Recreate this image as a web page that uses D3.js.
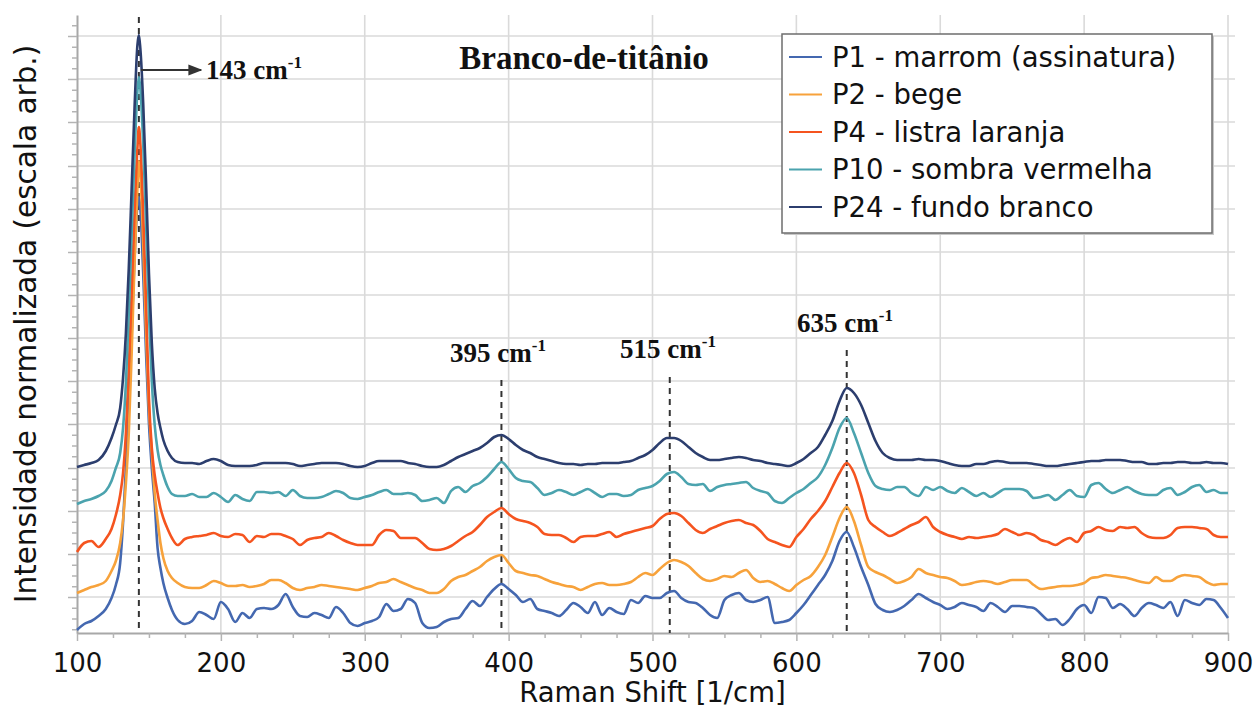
<!DOCTYPE html>
<html>
<head>
<meta charset="utf-8">
<script src="https://cdnjs.cloudflare.com/ajax/libs/d3/7.8.5/d3.min.js"></script>
<style>
  body { margin: 0; background: #fff; }
  svg { display: block; }
</style>
</head>
<body>
<div id="viz"></div>
<script>
// Raman shift (1/cm) shared by every spectrum
const shift = [100,105,110,115,120,124,127,130,132,134,136,138,140,142,143,144,146,148,150,152,154,156,158,160,163,166,170,
  175,180,185,190,195,200,205,210,215,220,225,230,235,240,245,250,255,260,265,270,
  275,280,285,290,295,300,305,310,315,320,325,330,335,340,345,350,355,360,365,370,
  375,380,385,390,395,400,405,410,415,420,425,430,435,440,445,450,455,460,465,470,
  475,480,485,490,495,500,505,510,515,520,525,530,535,540,545,550,555,560,565,570,
  575,580,585,590,595,600,605,610,615,620,625,630,635,640,645,650,655,660,665,670,
  675,680,685,690,695,700,705,710,715,720,725,730,735,740,745,750,755,760,765,770,
  775,780,785,790,795,800,805,810,815,820,825,830,835,840,845,850,855,860,865,870,
  875,880,885,890,895,900];

// normalized intensity, stacked with offsets (arb. units)
const p1 = [3,9,12,17,24,35,48,70,110,165,230,300,375,428,436,425,360,280,210,165,130,85,65,50,35,23,13,
  9,12,21,18,14,31,24,11,20,15,24,25,24,28,39,26,17,16,20,18,
  15,26,20,10,7,10,12,16,29,22,24,34,30,10,5,6,11,14,15,24,
  32,27,36,44,49,44,38,31,34,24,22,20,17,23,30,26,20,31,18,25,
  21,19,33,30,37,35,35,40,42,35,31,30,25,18,15,33,38,40,33,31,
  33,36,10,11,13,20,28,38,48,58,72,92,101,86,66,48,29,23,21,23,
  27,33,39,35,31,28,24,26,30,28,26,22,30,26,21,27,27,26,25,19,
  13,14,8,14,24,28,20,36,35,25,29,24,17,25,30,28,25,31,17,33,
  30,28,34,33,25,15];
const p2 = [40,43,46,48,52,62,72,90,113,150,200,280,370,445,472,460,390,300,225,180,140,113,90,75,62,55,50,
  46,45,45,48,52,50,47,47,48,46,47,49,53,53,50,45,43,45,46,48,
  47,46,45,44,43,45,47,50,51,54,51,48,45,43,40,40,44,52,56,58,
  62,66,72,76,78,70,62,60,58,57,54,51,49,47,46,43,46,49,50,48,
  48,49,51,56,60,58,64,70,73,71,67,60,54,52,54,57,56,60,63,55,
  51,52,49,45,42,48,53,57,66,78,96,115,126,112,88,66,61,58,54,50,
  52,56,64,60,58,56,55,52,48,49,51,52,51,49,51,53,53,53,48,44,
  45,46,47,47,48,50,55,56,58,57,56,55,53,51,50,56,52,52,56,58,
  57,56,51,48,49,49];
const p4 = [81,90,92,86,94,104,118,138,160,200,265,340,420,485,506,490,420,330,235,185,158,140,125,115,104,95,88,
  94,96,97,98,100,97,96,99,98,91,97,96,99,99,97,94,88,93,95,96,
  100,97,93,90,88,88,88,98,103,102,95,95,95,90,84,83,84,87,92,97,
  101,108,116,121,125,119,114,112,110,106,99,98,98,95,91,96,97,97,99,101,
  96,99,101,103,105,107,114,119,120,117,110,103,100,104,107,110,112,113,110,108,
  102,94,91,88,86,96,104,114,122,132,146,160,170,160,138,113,106,101,97,100,
  104,108,111,116,106,101,98,96,94,96,95,96,97,99,104,101,98,100,98,93,
  91,88,92,95,91,100,102,106,103,102,106,105,106,100,96,95,95,98,105,106,
  106,105,104,98,96,96];
const p10 = [129,132,134,137,142,152,165,180,205,250,320,400,478,542,556,545,490,410,320,252,208,183,168,158,146,139,137,
  137,139,136,136,140,136,131,138,134,132,141,141,140,141,137,143,137,135,135,136,
  139,142,140,135,134,136,138,141,143,139,139,140,138,132,133,135,130,142,146,141,
  147,150,156,164,171,164,155,152,151,145,138,140,143,141,138,141,144,140,136,139,
  139,137,138,143,145,147,152,159,161,156,149,148,149,142,146,148,149,150,151,145,
  142,140,132,130,135,140,144,150,156,168,185,205,215,200,180,160,147,144,143,146,
  146,140,137,146,143,146,142,140,145,141,137,140,136,140,144,144,144,142,135,136,
  138,133,138,143,137,136,148,150,144,140,143,146,142,139,138,138,143,145,138,141,
  146,148,141,143,140,140];
const p24 = [166,168,170,173,182,195,208,225,255,300,365,445,525,588,598,585,530,450,360,290,245,220,205,193,182,175,171,
  170,170,169,172,174,172,168,167,167,167,168,170,170,170,170,169,167,168,169,170,
  170,170,169,167,166,167,170,172,172,172,172,170,169,167,166,166,168,172,176,179,
  182,185,190,196,198,194,188,183,180,176,174,172,170,169,169,168,169,169,170,170,
  170,171,172,175,178,183,190,195,195,192,186,180,176,173,173,174,175,176,175,173,
  172,170,169,168,167,170,174,180,186,198,212,232,245,240,228,210,192,180,175,173,
  173,173,174,173,173,172,170,168,167,167,169,169,171,172,171,170,170,170,169,168,
  167,167,168,169,170,171,172,172,173,173,173,172,171,171,169,169,170,170,171,171,
  170,170,171,170,170,169];

const seriesNames = ['P1 - marrom (assinatura)', 'P2 - bege', 'P4 - listra laranja', 'P10 - sombra vermelha', 'P24 - fundo branco'];
const seriesValues = [p1, p2, p4, p10, p24];
const seriesColors = ['#4468b0', '#f7a23b', '#f5541f', '#4ba3ae', '#2c3e6e'];

const xTickValues = [100, 200, 300, 400, 500, 600, 700, 800, 900];
const yGridValues = [36, 79, 122, 165, 209, 252, 295, 338, 381, 424, 467, 511, 554, 597];

const peakShift = [143, 395, 512, 635];
const peakLabels = ['143', '395', '515', '635'];

const canvasWidth = 1259;
const canvasHeight = 710;
const margin = { top: 15, right: 31, bottom: 77, left: 77 };
const plotWidth = canvasWidth - margin.left - margin.right;
const plotHeight = canvasHeight - margin.top - margin.bottom;

const xScale = d3.scaleLinear().domain([100, 900]).range([0, plotWidth]);
const yScale = d3.scaleLinear().domain([0, 618]).range([plotHeight, 0]);

const sans = 'DejaVu Sans, Verdana, sans-serif';
const serif = 'Liberation Serif, Times New Roman, serif';

const chart = d3.select('#viz')
  .append('svg')
  .attr('width', canvasWidth)
  .attr('height', canvasHeight);

const plot = chart.append('g')
  .attr('transform', `translate(${margin.left}, ${margin.top})`);

// grid
plot.append('g').selectAll('line').data(yGridValues)
  .enter().append('line')
    .attr('x1', 0).attr('x2', plotWidth + 7)
    .attr('y1', (d) => yScale(d)).attr('y2', (d) => yScale(d))
    .attr('stroke', '#dadada').attr('stroke-width', 1.6);

plot.append('g').selectAll('line').data(xTickValues.slice(1))
  .enter().append('line')
    .attr('x1', (d) => xScale(d)).attr('x2', (d) => xScale(d))
    .attr('y1', 0).attr('y2', plotHeight)
    .attr('stroke', '#dadada').attr('stroke-width', 1.6);

// axes
const minorX = d3.range(100, 901, 25).filter((d) => d % 100 !== 0);
const minorY = [];
yGridValues.forEach((g, i) => {
  const step = (yGridValues[1] - yGridValues[0]) / 4;
  [1, 2, 3].forEach((k) => minorY.push(g - k * step));
  if (i === yGridValues.length - 1) [1, 2].forEach((k) => minorY.push(g + k * step));
});

const xAxis = plot.append('g')
  .attr('transform', `translate(0, ${plotHeight})`)
  .call(d3.axisBottom(xScale).tickValues(xTickValues).tickSize(8).tickSizeOuter(0).tickPadding(13));
plot.append('g')
  .attr('transform', `translate(0, ${plotHeight})`)
  .call(d3.axisBottom(xScale).tickValues(minorX).tickSize(5).tickFormat(''))
  .select('.domain').remove();

const yAxis = plot.append('g')
  .call(d3.axisLeft(yScale).tickValues(yGridValues).tickSize(9).tickSizeOuter(0).tickFormat(''));
plot.append('g')
  .call(d3.axisLeft(yScale).tickValues(minorY.filter((d) => d > 0 && d <= 618)).tickSize(5).tickFormat(''))
  .select('.domain').remove();

plot.selectAll('.domain').attr('stroke', '#a8a8a8').attr('stroke-width', 2);
plot.selectAll('.tick line').attr('stroke', '#b4b4b4').attr('stroke-width', 1.5);
xAxis.selectAll('text')
  .attr('font-family', sans).attr('font-size', 26).attr('fill', '#111');

// dashed peak markers
const markTop = [2, 365, 362, 335];
plot.append('g').selectAll('line').data(peakShift)
  .enter().append('line')
    .attr('x1', (d) => xScale(d)).attr('x2', (d) => xScale(d))
    .attr('y1', (d, i) => markTop[i]).attr('y2', plotHeight)
    .attr('stroke', '#333').attr('stroke-width', 2)
    .attr('stroke-dasharray', '6,5');

// spectra
const line = d3.line()
  .x((d) => xScale(d[0]))
  .y((d) => yScale(d[1]))
  .curve(d3.curveMonotoneX);

plot.append('g').selectAll('path').data(seriesValues)
  .enter().append('path')
    .attr('d', (vals) => line(shift.map((s, i) => [s, vals[i]])))
    .attr('fill', 'none')
    .attr('stroke', (d, i) => seriesColors[i])
    .attr('stroke-width', 2.6)
    .attr('stroke-linejoin', 'round');

// arrow to 143 peak
chart.append('defs').append('marker')
  .attr('id', 'head').attr('viewBox', '0 0 10 10')
  .attr('refX', 9).attr('refY', 5)
  .attr('markerWidth', 7).attr('markerHeight', 7)
  .attr('orient', 'auto')
  .append('path').attr('d', 'M0,1 L10,5 L0,9 Z').attr('fill', '#333');

plot.append('line')
  .attr('x1', xScale(143) + 2).attr('x2', 201 - margin.left)
  .attr('y1', 55).attr('y2', 55)
  .attr('stroke', '#333').attr('stroke-width', 2)
  .attr('marker-end', 'url(#head)');

// peak labels
const labelPos = [[206, 79], [450, 362], [620, 358], [797, 332]];
peakLabels.forEach((lab, i) => {
  const t = chart.append('text')
    .attr('x', labelPos[i][0]).attr('y', labelPos[i][1])
    .attr('font-family', serif).attr('font-weight', 'bold')
    .attr('font-size', 27).attr('fill', '#111');
  t.append('tspan').text(`${lab} cm`);
  t.append('tspan').attr('dy', -11).attr('font-size', 17).text('-1');
});

chart.append('text')
  .attr('x', 584).attr('y', 69)
  .attr('text-anchor', 'middle')
  .attr('font-family', serif).attr('font-weight', 'bold')
  .attr('font-size', 33).attr('fill', '#111')
  .text('Branco-de-titânio');

// axis titles
chart.append('text')
  .attr('x', margin.left + plotWidth / 2).attr('y', 702)
  .attr('text-anchor', 'middle')
  .attr('font-family', sans).attr('font-size', 27.5).attr('fill', '#111')
  .text('Raman Shift [1/cm]');

chart.append('text')
  .attr('transform', 'translate(36, 324) rotate(-90)')
  .attr('text-anchor', 'middle')
  .attr('font-family', sans).attr('font-size', 29.5).attr('fill', '#111')
  .text('Intensidade normalizada (escala arb.)');

// legend
const legend = chart.append('g').attr('transform', 'translate(782, 34)');
legend.append('rect')
  .attr('x', 2).attr('y', 2).attr('width', 430).attr('height', 199)
  .attr('fill', '#c8c8c8');
legend.append('rect')
  .attr('width', 430).attr('height', 199)
  .attr('fill', '#fff').attr('stroke', '#6e6e6e').attr('stroke-width', 1.5);

const rows = legend.selectAll('g.row').data(seriesNames)
  .enter().append('g')
    .attr('transform', (d, i) => `translate(0, ${23 + i * 37.5})`);
rows.append('line')
  .attr('x1', 7).attr('x2', 40).attr('y1', 0).attr('y2', 0)
  .attr('stroke', (d, i) => seriesColors[i]).attr('stroke-width', 2);
rows.append('text')
  .attr('x', 50).attr('dy', '0.35em')
  .attr('font-family', sans).attr('font-size', 27.5).attr('fill', '#111')
  .text((d) => d);
</script>
</body>
</html>
